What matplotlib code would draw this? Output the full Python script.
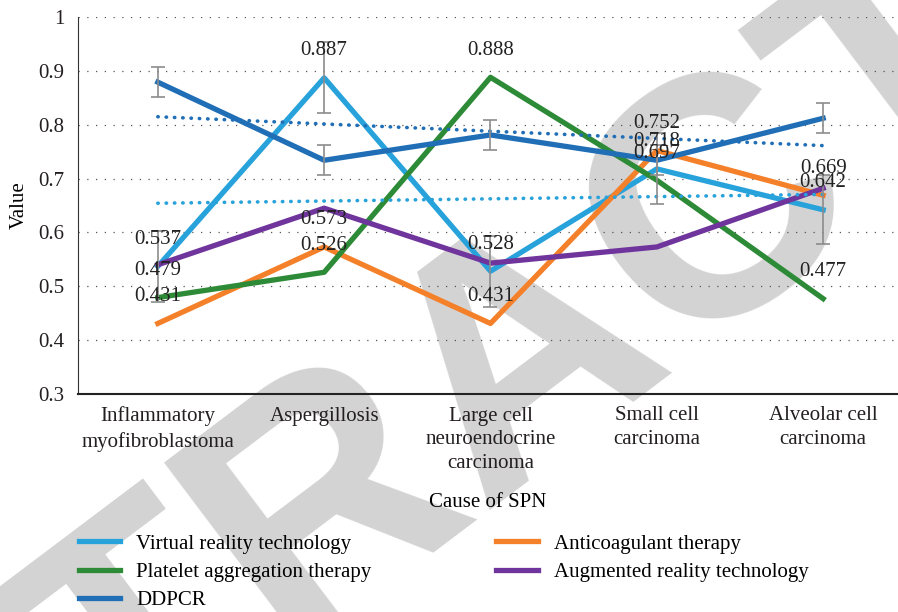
import numpy as np
import matplotlib
matplotlib.use("Agg")
import matplotlib.pyplot as plt

categories = ["Inflammatory\nmyofibroblastoma", "Aspergillosis",
              "Large cell\nneuroendocrine\ncarcinoma", "Small cell\ncarcinoma",
              "Alveolar cell\ncarcinoma"]
vr = [0.537, 0.887, 0.528, 0.718, 0.642]
anticoag = [0.431, 0.573, 0.431, 0.752, 0.669]
platelet = [0.479, 0.526, 0.888, 0.697, 0.477]
ar = [0.540, 0.645, 0.543, 0.573, 0.682]
ddpcr = [0.879, 0.734, 0.781, 0.734, 0.812]
vr_err = [0.066, 0.066, 0.066, 0.066, 0.064]
ddpcr_err = [0.028, 0.028, 0.028, 0.028, 0.028]

plt.rcParams["font.family"] = ["Liberation Serif", "DejaVu Serif"]
plt.rcParams["font.size"] = 15

fig = plt.figure(figsize=(8.98, 6.12), dpi=100)
ax = fig.add_axes([78 / 898, 1 - 394 / 612, 1 - 78 / 898, 377 / 612])
ax.patch.set_alpha(0)

# watermark behind everything
fig.text(525 / 898, 1 - 357 / 612, "RETRACTED", rotation=37, ha="center", va="center",
         rotation_mode="anchor", fontsize=245, fontweight="bold", color="#d3d3d3",
         family="Liberation Sans", zorder=-5)

x = np.arange(len(categories))
c_vr, c_or, c_gr, c_pu, c_db = "#27a2db", "#f5802a", "#2d8a37", "#6f359c", "#1f6eb6"

ax.plot(x, vr, color=c_vr, lw=3.8, label="Virtual reality technology", zorder=3)
ax.plot(x, anticoag, color=c_or, lw=3.8, label="Anticoagulant therapy", zorder=3)
ax.plot(x, platelet, color=c_gr, lw=3.8, label="Platelet aggregation therapy", zorder=3)
ax.plot(x, ar, color=c_pu, lw=3.8, label="Augmented reality technology", zorder=3)
ax.plot(x, ddpcr, color=c_db, lw=3.8, label="DDPCR", zorder=3)

ax.errorbar(x, vr, yerr=vr_err, fmt="none", ecolor="#8c8c8c", elinewidth=1.2,
            capsize=5, capthick=1.2, zorder=4)
ax.errorbar(x, ddpcr, yerr=ddpcr_err, fmt="none", ecolor="#8c8c8c", elinewidth=1.2,
            capsize=5, capthick=1.2, zorder=4)

# linear trendlines
for vals, col in [(vr, c_vr), (ddpcr, c_db)]:
    k, b = np.polyfit(x, vals, 1)
    ax.plot(x, k * x + b, color=col, lw=2.6, linestyle=(0, (0.1, 2.2)),
            dash_capstyle="round", zorder=3)

for vals in [vr, anticoag, platelet]:
    for xi, v in zip(x, vals):
        ax.annotate(f"{v:.3f}", (xi, v), xytext=(0, 19.5), textcoords="offset points",
                    ha="center", va="center", fontsize=15, color="#222222", zorder=5)

ax.set_ylim(0.3, 1.0)
ax.set_xlim(-0.48, 4.45)
ax.set_yticks(np.arange(0.3, 1.01, 0.1))
ax.set_yticklabels(["0.3", "0.4", "0.5", "0.6", "0.7", "0.8", "0.9", "1"])
ax.set_xticks(x)
ax.set_xticklabels(categories, linespacing=1.35)
ax.tick_params(length=0, pad=9, colors="#231f20")
ax.tick_params(axis="y", pad=10)
ax.grid(axis="y", color="#555555", linestyle=(0, (1, 6)), lw=0.9)
ax.spines["top"].set_visible(False)
ax.spines["right"].set_visible(False)
ax.spines["left"].set_color("#333333")
ax.spines["bottom"].set_color("#222222")
ax.spines["bottom"].set_linewidth(1.5)

ax.set_xlabel("Cause of SPN", fontsize=15, labelpad=14)
ax.set_ylabel("Value", fontsize=15)
ax.yaxis.set_label_coords(-0.060, 0.5)

h, l = ax.get_legend_handles_labels()
order = [0, 2, 4, 1, 3]
ax.legend([h[i] for i in order], [l[i] for i in order], ncol=2, frameon=False,
          loc="upper left", bbox_to_anchor=(-0.022, -0.322), handlelength=2.0,
          handletextpad=0.75, columnspacing=6.0, labelspacing=0.42, fontsize=15)

fig.savefig("out.png", dpi=100)
